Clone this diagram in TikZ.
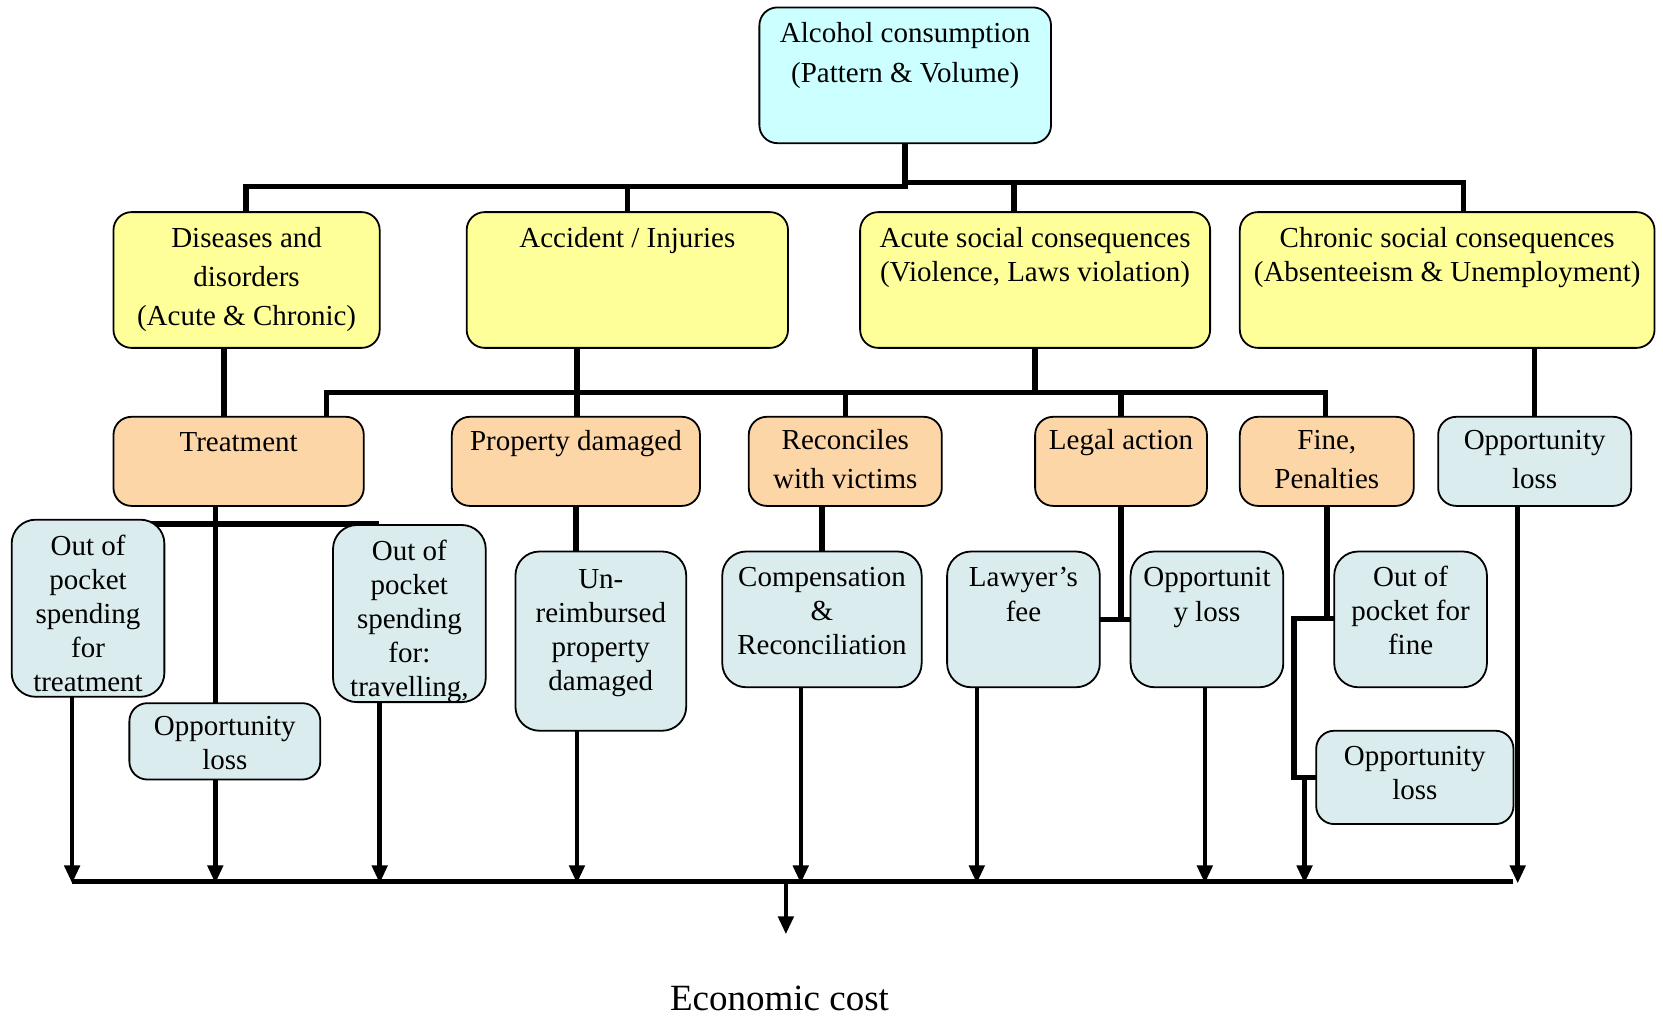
\documentclass[tikz,border=0pt]{standalone}
\usepackage{fontspec}
\setmainfont{Liberation Serif}
\usetikzlibrary{arrows.meta,calc}
\pgfdeclarelayer{background}
\pgfsetlayers{background,main}
\definecolor{alcC}{RGB}{204,255,255}
\definecolor{yelC}{RGB}{255,255,153}
\definecolor{orgC}{RGB}{253,214,168}
\definecolor{bluC}{RGB}{218,236,238}
\newcommand\mkbox[6]{%
  \pgfmathsetmacro\mkbw{(#5-#3)*1.0606}%
  \pgfmathsetmacro\mkbh{(#6-#4)*1.0606}%
  \node[#2, minimum width=\mkbw pt, minimum height=\mkbh pt] (#1) at ({(#3+#5)/2},{(#4+#6)/2}) {};}
\newcommand\mktext[6]{%
  \node[txt, font=\fontsize{#5}{#4}\selectfont, anchor=north] (#1) at (#2,#3-11) {\rule{0pt}{0.75em}#6};}
\begin{document}
\begin{tikzpicture}[x=1.0606pt,y=-1.0606pt,
  box/.style={draw=black, line width=1.8pt, rounded corners=18pt, inner sep=0pt, outer sep=0pt},
  abox/.style={box, fill=alcC},
  ybox/.style={box, fill=yelC},
  obox/.style={box, fill=orgC},
  bbox/.style={box, fill=bluC},
  tbox/.style={box, fill=bluC, rounded corners=24pt},
  txt/.style={inner sep=0pt, align=center, text=black},
  conn/.style={draw=black, line width=5.5pt, line cap=rect, line join=miter},
  arr/.style={draw=black, line width=4.5pt, -{Triangle[length=18pt,width=15pt]}},
  busline/.style={draw=black, line width=5pt, line cap=butt}]
\useasboundingbox (0,0) rectangle (1568,958);

% level 0
\mkbox{alc}{abox}{716}{7}{991}{135}
\mktext{alct}{853.5}{30}{40}{29}{Alcohol consumption\\(Pattern \& Volume)}

% level 1
\mkbox{dis}{ybox}{107}{200}{358}{328}
\mktext{dist}{232.5}{224}{39}{29}{Diseases and\\disorders\\(Acute \& Chronic)}
\mkbox{acc}{ybox}{440}{200}{743}{328}
\mktext{acct}{591.5}{224}{34}{29}{Accident / Injuries}
\mkbox{acu}{ybox}{811}{200}{1141}{328}
\mktext{acut}{976}{224}{34}{29}{Acute social consequences\\(Violence, Laws violation)}
\mkbox{chr}{ybox}{1169}{200}{1560}{328}
\mktext{chrt}{1364.5}{224}{34}{29}{Chronic social consequences\\(Absenteeism \& Unemployment)}

% level 2
\mkbox{trt}{obox}{107}{393}{343}{477}
\mktext{trtt}{225}{416}{34}{29}{Treatment}
\mkbox{prp}{obox}{426}{393}{660}{477}
\mktext{prpt}{543}{415}{34}{29}{Property damaged}
\mkbox{rec}{obox}{706}{393}{888}{477}
\mktext{rect}{797}{414}{39}{29}{Reconciles\\with victims}
\mkbox{leg}{obox}{976}{393}{1138}{477}
\mktext{legt}{1057}{414}{34}{29}{Legal action}
\mkbox{fin}{obox}{1169}{393}{1333}{477}
\mktext{fint}{1251}{414}{39}{29}{Fine,\\Penalties}
\mkbox{opr}{bbox}{1356}{393}{1538}{477}
\mktext{oprt}{1447}{414}{39}{29}{Opportunity\\loss}

% level 3
\mkbox{oo1}{tbox}{11}{490}{155}{657}
\mktext{oo1t}{83}{514}{34}{29}{Out of\\pocket\\spending\\for\\treatment}
\mkbox{oo2}{tbox}{314}{495}{458}{662}
\mktext{oo2t}{386}{519}{34}{29}{Out of\\pocket\\spending\\for:\\travelling,}
\mkbox{op1}{bbox}{122}{663}{302}{735}
\mktext{op1t}{212}{684}{34}{29}{Opportunity\\loss}
\mkbox{unr}{tbox}{486}{520}{647}{689}
\mktext{unrt}{566.5}{545}{34}{29}{Un-\\reimbursed\\property\\damaged}
\mkbox{cmp}{tbox}{681}{520}{869}{648}
\mktext{cmpt}{775}{543}{34}{29}{Compensation\\\&\\Reconciliation}
\mkbox{law}{tbox}{893}{520}{1037}{648}
\mktext{lawt}{965}{543}{35}{29}{Lawyer’s\\fee}
\mkbox{op2}{tbox}{1066}{520}{1210}{648}
\mktext{op2t}{1138}{543}{35}{29}{Opportunit\\y loss}
\mkbox{oof}{tbox}{1258}{520}{1402}{648}
\mktext{ooft}{1330}{543}{34}{29}{Out of\\pocket for\\fine}
\mkbox{op3}{bbox}{1241}{689}{1427}{777}
\mktext{op3t}{1334}{712}{34}{29}{Opportunity\\loss}

\node[inner sep=0pt, font=\fontsize{37}{44}\selectfont] (eco) at (735,941) {Economic cost};

\begin{pgfonlayer}{background}
% level 0 -> 1
\coordinate (b0L) at (232,176);
\coordinate (b0R) at (1380,172);
\coordinate (b0M) at (956,172);
\coordinate (b0E) at (956,196);
\draw[conn] (alc.south) -- (alc.south |- b0L);
\draw[conn] (b0L) -- (alc.south |- b0L);
\draw[conn] (alc.south |- b0R) -- (b0R);
\draw[conn] (b0L) -- (dis.north -| b0L);
\draw[conn] (acc.north) -- (acc.north |- b0L);
\draw[conn] (b0M) -- (b0E);
\draw[conn] (b0R) -- (chr.north -| b0R);
% level 1 -> 2
\coordinate (v211) at (211,0);
\draw[conn] (dis.south -| v211) -- (trt.north -| v211);
\coordinate (b1L) at (308,370);
\coordinate (b1R) at (1250,370);
\coordinate (v544) at (544,370);
\draw[conn] (b1L) -- (b1R);
\draw[conn] (acc.south -| v544) -- (v544);
\draw[conn] (acu.south) -- (acu.south |- b1L);
\draw[conn] (b1L) -- (trt.north -| b1L);
\draw[conn] (v544) -- (prp.north -| v544);
\draw[conn] (rec.north) -- (rec.north |- b1L);
\draw[conn] (leg.north) -- (leg.north |- b1L);
\draw[conn] (b1R) -- (fin.north -| b1R);
\draw[conn] (chr.south -| opr.north) -- (opr.north);
% level 2 -> 3
\coordinate (v203) at (203,494);
\draw[conn] (trt.south -| v203) -- (op1.north -| v203);
\coordinate (tL) at (137,494);
\coordinate (tR) at (355,494);
\draw[conn] (tL) -- (tR);
\draw[conn] (prp.south) -- (prp.south |- unr.north);
\draw[conn] (cmp.north) -- (cmp.north |- rec.south);
\coordinate (lj) at (1057,584);
\draw[conn] (leg.south) -- (leg.south |- lj);
\draw[conn] (law.east |- lj) -- (op2.west |- lj);
\coordinate (fk) at (1220,583);
\draw[conn] (fin.south) -- (fin.south |- fk);
\draw[conn] (fk) -- (oof.west |- fk);
\draw[conn] (fk) -- (fk |- op3.west) -- (op3.west);
% arrows to the bus
\coordinate (busL) at (68,831);
\coordinate (busR) at (1427,831);
\foreach \n/\x in {oo1/68, op1/203, oo2/358, unr/544, cmp/755, law/921, op2/1136, opr/1431} {
  \coordinate (ax) at (\x,833);
  \draw[arr] (\n.south -| ax) -- (ax);
}
\coordinate (fa) at (1230,833);
\draw[arr] (op3.west -| fa) -- (fa);
\draw[busline] (busL) -- (busR);
\coordinate (ea) at (741,881);
\draw[arr] (busL -| ea) -- (ea);
\end{pgfonlayer}
\end{tikzpicture}
\end{document}
